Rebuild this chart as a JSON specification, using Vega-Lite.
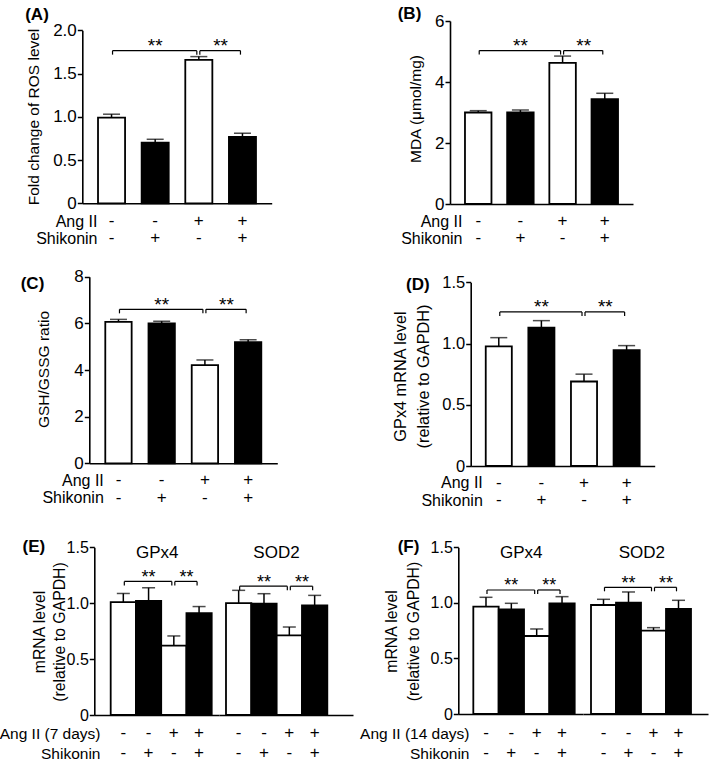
{
"$schema": "https://vega.github.io/schema/vega-lite/v6.json",
"width": 709, "height": 764, "autosize": {"type": "none"}, "padding": 0,
"config": {
 "font": "Liberation Sans",
 "view": {"stroke": null},
 "axis": {"grid": false, "domainColor": "black", "domainWidth": 1.6, "tickColor": "black", "tickWidth": 1.5, "tickSize": 5, "labelColor": "black", "labelFontSize": 17, "labelPadding": 1, "titleColor": "black", "titleFontSize": 15.5, "titleFontWeight": "normal", "titleLineHeight": 21, "labelOverlap": false},
 "text": {"color": "black"}
},
"datasets": {
 "A": [{"c":"1","ang":"-","shik":"-","m":0.99,"hi":1.03},{"c":"2","ang":"-","shik":"+","m":0.70,"hi":0.74},{"c":"3","ang":"+","shik":"-","m":1.657,"hi":1.696},{"c":"4","ang":"+","shik":"+","m":0.767,"hi":0.81}],
 "A_br": [{"from":"1","to":"3","mid":"2","lv":1.765,"kind":"long","sig":"**"},{"from":"3","to":"4","mid":"3","lv":1.765,"kind":"short","sig":"**"}],
 "B": [{"c":"1","ang":"-","shik":"-","m":3.0,"hi":3.06},{"c":"2","ang":"-","shik":"+","m":3.0,"hi":3.08},{"c":"3","ang":"+","shik":"-","m":4.63,"hi":4.85},{"c":"4","ang":"+","shik":"+","m":3.44,"hi":3.63}],
 "B_br": [{"from":"1","to":"3","mid":"2","lv":5.03,"kind":"long","sig":"**"},{"from":"3","to":"4","mid":"3","lv":5.03,"kind":"short","sig":"**"}],
 "C": [{"c":"1","ang":"-","shik":"-","m":6.06,"hi":6.17},{"c":"2","ang":"-","shik":"+","m":6.0,"hi":6.09},{"c":"3","ang":"+","shik":"-","m":4.21,"hi":4.43},{"c":"4","ang":"+","shik":"+","m":5.19,"hi":5.30}],
 "C_br": [{"from":"1","to":"3","mid":"2","lv":6.6,"kind":"long","sig":"**"},{"from":"3","to":"4","mid":"3","lv":6.6,"kind":"short","sig":"**"}],
 "D": [{"c":"1","ang":"-","shik":"-","m":0.977,"hi":1.048},{"c":"2","ang":"-","shik":"+","m":1.13,"hi":1.187},{"c":"3","ang":"+","shik":"-","m":0.69,"hi":0.75},{"c":"4","ang":"+","shik":"+","m":0.945,"hi":0.983}],
 "D_br": [{"from":"1","to":"3","mid":"2","lv":1.258,"kind":"long","sig":"**"},{"from":"3","to":"4","mid":"3","lv":1.258,"kind":"short","sig":"**"}],
 "E_g": [{"c":"1","ang":"-","shik":"-","m":1.01,"hi":1.087},{"c":"2","ang":"-","shik":"+","m":1.02,"hi":1.138},{"c":"3","ang":"+","shik":"-","m":0.62,"hi":0.707},{"c":"4","ang":"+","shik":"+","m":0.91,"hi":0.97}],
 "E_g_br": [{"from":"1","to":"3","mid":"2","lv":1.195,"kind":"long","sig":"**"},{"from":"3","to":"4","mid":"3","lv":1.195,"kind":"short","sig":"**"}],
 "E_s": [{"c":"1","ang":"-","shik":"-","m":1.0,"hi":1.115},{"c":"2","ang":"-","shik":"+","m":0.996,"hi":1.085},{"c":"3","ang":"+","shik":"-","m":0.713,"hi":0.787},{"c":"4","ang":"+","shik":"+","m":0.981,"hi":1.07}],
 "E_s_br": [{"from":"1","to":"3","mid":"2","lv":1.152,"kind":"long","sig":"**"},{"from":"3","to":"4","mid":"3","lv":1.152,"kind":"short","sig":"**"}],
 "F_g": [{"c":"1","ang":"-","shik":"-","m":0.966,"hi":1.05},{"c":"2","ang":"-","shik":"+","m":0.942,"hi":0.996},{"c":"3","ang":"+","shik":"-","m":0.702,"hi":0.765},{"c":"4","ang":"+","shik":"+","m":0.996,"hi":1.056}],
 "F_g_br": [{"from":"1","to":"3","mid":"2","lv":1.116,"kind":"long","sig":"**"},{"from":"3","to":"4","mid":"3","lv":1.116,"kind":"short","sig":"**"}],
 "F_s": [{"c":"1","ang":"-","shik":"-","m":0.981,"hi":1.032},{"c":"2","ang":"-","shik":"+","m":1.002,"hi":1.098},{"c":"3","ang":"+","shik":"-","m":0.75,"hi":0.777},{"c":"4","ang":"+","shik":"+","m":0.945,"hi":1.023}],
 "F_s_br": [{"from":"1","to":"3","mid":"2","lv":1.14,"kind":"long","sig":"**"},{"from":"3","to":"4","mid":"3","lv":1.14,"kind":"short","sig":"**"}]
},
"resolve": {"scale": {"x": "independent", "y": "independent"}, "axis": {"x": "independent", "y": "independent"}},
"layer": [
 {"data": {"name": "A"}, "layer": [
  {"mark": {"type": "bar", "stroke": "black", "strokeWidth": 1.8},
   "encoding": {"x": {"field": "c", "type": "nominal", "scale": {"type": "band", "domain": ["1","2","3","4"], "range": [82.3, 271.7], "paddingInner": 0.38, "paddingOuter": 0.36},
     "axis": {"orient": "bottom", "offset": -560.7, "labels": false, "ticks": false, "title": "(A)", "titleX": 36.5, "titleY": -189.3, "titleAlign": "center", "titleBaseline": "middle", "titleFontWeight": "bold", "titleFontSize": 17}},
    "y": {"field": "m", "type": "quantitative", "scale": {"domain": [0, 2], "range": [203.3, 30.3], "nice": false},
     "axis": {"orient": "left", "offset": -82.3, "values": [0, 0.5, 1, 1.5, 2], "labelExpr": "datum.value == 0 ? '0' : format(datum.value, '.1f')", "title": "Fold change of ROS level", "titleX": -49.3, "titleY": 116.5, "titleAngle": -90, "titleAlign": "center", "titleBaseline": "middle"}},
    "fill": {"field": "shik", "type": "nominal", "scale": {"domain": ["-","+"], "range": ["white","black"]}, "legend": null}}},
  {"mark": {"type": "rule", "color": "black", "strokeWidth": 1.5}, "encoding": {"x": {"field": "c", "type": "nominal"}, "y": {"field": "m", "type": "quantitative"}, "y2": {"field": "hi"}}},
  {"mark": {"type": "tick", "color": "black", "thickness": 1.5, "size": 17}, "encoding": {"x": {"field": "c", "type": "nominal"}, "y": {"field": "hi", "type": "quantitative"}}},
  {"data": {"name": "A_br"}, "mark": {"type": "rule", "color": "black", "strokeWidth": 1.2, "xOffset": 1, "x2Offset": -2}, "encoding": {"x": {"field": "from", "type": "nominal"}, "x2": {"field": "to"}, "y": {"field": "lv", "type": "quantitative"}}},
  {"data": {"name": "A_br"}, "mark": {"type": "rule", "color": "black", "strokeWidth": 1.2, "xOffset": 1, "y2Offset": 4}, "encoding": {"x": {"field": "from", "type": "nominal"}, "y": {"field": "lv", "type": "quantitative"}, "y2": {"field": "lv"}}},
  {"data": {"name": "A_br"}, "mark": {"type": "rule", "color": "black", "strokeWidth": 1.2, "xOffset": -2, "y2Offset": 4}, "encoding": {"x": {"field": "to", "type": "nominal"}, "y": {"field": "lv", "type": "quantitative"}, "y2": {"field": "lv"}}},
  {"data": {"name": "A_br"}, "transform": [{"filter": "datum.kind == 'long'"}], "mark": {"type": "text", "fontSize": 19, "baseline": "alphabetic", "dy": 1.5}, "encoding": {"x": {"field": "mid", "type": "nominal"}, "y": {"field": "lv", "type": "quantitative"}, "text": {"field": "sig"}}},
  {"data": {"name": "A_br"}, "transform": [{"filter": "datum.kind == 'short'"}], "mark": {"type": "text", "fontSize": 19, "baseline": "alphabetic", "dy": 1.5, "dx": 21.8}, "encoding": {"x": {"field": "mid", "type": "nominal"}, "y": {"field": "lv", "type": "quantitative"}, "text": {"field": "sig"}}}
 ]},
 {"data": {"name": "A"}, "transform": [{"fold": ["ang","shik"], "as": ["row","sign"]}], "mark": {"type": "text", "fontSize": 17},
  "encoding": {"x": {"field": "c", "type": "nominal", "scale": {"type": "band", "domain": ["1","2","3","4"], "range": [82.3, 271.7], "paddingInner": 0.38, "paddingOuter": 0.36}, "axis": null},
   "y": {"field": "row", "type": "nominal", "scale": {"type": "point", "domain": ["ang","shik"], "range": [221, 238.3], "padding": 0},
    "axis": {"orient": "left", "offset": -97, "domain": false, "ticks": false, "tickSize": 0, "labelPadding": 0, "labelFontSize": 16, "title": null, "labelExpr": "datum.value == 'ang' ? 'Ang II' : 'Shikonin'"}},
   "text": {"field": "sign"}}},

 {"data": {"name": "B"}, "layer": [
  {"mark": {"type": "bar", "stroke": "black", "strokeWidth": 1.8},
   "encoding": {"x": {"field": "c", "type": "nominal", "scale": {"type": "band", "domain": ["1","2","3","4"], "range": [450, 633], "paddingInner": 0.372, "paddingOuter": 0.355},
     "axis": {"orient": "bottom", "offset": -560, "labels": false, "ticks": false, "title": "(B)", "titleX": 409, "titleY": -190.3, "titleAlign": "center", "titleBaseline": "middle", "titleFontWeight": "bold", "titleFontSize": 17}},
    "y": {"field": "m", "type": "quantitative", "scale": {"domain": [0, 6], "range": [204, 21], "nice": false},
     "axis": {"orient": "left", "offset": -450, "values": [0, 2, 4, 6], "format": "d", "title": "MDA (μmol/mg)", "titleX": -34.3, "titleY": 108.5, "titleAngle": -90, "titleAlign": "center", "titleBaseline": "middle"}},
    "fill": {"field": "shik", "type": "nominal", "scale": {"domain": ["-","+"], "range": ["white","black"]}, "legend": null}}},
  {"mark": {"type": "rule", "color": "black", "strokeWidth": 1.5}, "encoding": {"x": {"field": "c", "type": "nominal"}, "y": {"field": "m", "type": "quantitative"}, "y2": {"field": "hi"}}},
  {"mark": {"type": "tick", "color": "black", "thickness": 1.5, "size": 17}, "encoding": {"x": {"field": "c", "type": "nominal"}, "y": {"field": "hi", "type": "quantitative"}}},
  {"data": {"name": "B_br"}, "mark": {"type": "rule", "color": "black", "strokeWidth": 1.2, "xOffset": 1, "x2Offset": -2}, "encoding": {"x": {"field": "from", "type": "nominal"}, "x2": {"field": "to"}, "y": {"field": "lv", "type": "quantitative"}}},
  {"data": {"name": "B_br"}, "mark": {"type": "rule", "color": "black", "strokeWidth": 1.2, "xOffset": 1, "y2Offset": 4}, "encoding": {"x": {"field": "from", "type": "nominal"}, "y": {"field": "lv", "type": "quantitative"}, "y2": {"field": "lv"}}},
  {"data": {"name": "B_br"}, "mark": {"type": "rule", "color": "black", "strokeWidth": 1.2, "xOffset": -2, "y2Offset": 4}, "encoding": {"x": {"field": "to", "type": "nominal"}, "y": {"field": "lv", "type": "quantitative"}, "y2": {"field": "lv"}}},
  {"data": {"name": "B_br"}, "transform": [{"filter": "datum.kind == 'long'"}], "mark": {"type": "text", "fontSize": 19, "baseline": "alphabetic", "dy": 1.5}, "encoding": {"x": {"field": "mid", "type": "nominal"}, "y": {"field": "lv", "type": "quantitative"}, "text": {"field": "sig"}}},
  {"data": {"name": "B_br"}, "transform": [{"filter": "datum.kind == 'short'"}], "mark": {"type": "text", "fontSize": 19, "baseline": "alphabetic", "dy": 1.5, "dx": 21.1}, "encoding": {"x": {"field": "mid", "type": "nominal"}, "y": {"field": "lv", "type": "quantitative"}, "text": {"field": "sig"}}}
 ]},
 {"data": {"name": "B"}, "transform": [{"fold": ["ang","shik"], "as": ["row","sign"]}], "mark": {"type": "text", "fontSize": 17},
  "encoding": {"x": {"field": "c", "type": "nominal", "scale": {"type": "band", "domain": ["1","2","3","4"], "range": [450, 633], "paddingInner": 0.372, "paddingOuter": 0.355}, "axis": null},
   "y": {"field": "row", "type": "nominal", "scale": {"type": "point", "domain": ["ang","shik"], "range": [221, 238.3], "padding": 0},
    "axis": {"orient": "left", "offset": -462, "domain": false, "ticks": false, "tickSize": 0, "labelPadding": 0, "labelFontSize": 16, "title": null, "labelExpr": "datum.value == 'ang' ? 'Ang II' : 'Shikonin'"}},
   "text": {"field": "sign"}}},

 {"data": {"name": "C"}, "layer": [
  {"mark": {"type": "bar", "stroke": "black", "strokeWidth": 1.8},
   "encoding": {"x": {"field": "c", "type": "nominal", "scale": {"type": "band", "domain": ["1","2","3","4"], "range": [89.3, 277.3], "paddingInner": 0.39, "paddingOuter": 0.37},
     "axis": {"orient": "bottom", "offset": -300.7, "labels": false, "ticks": false, "title": "(C)", "titleX": 32, "titleY": -180.3, "titleAlign": "center", "titleBaseline": "middle", "titleFontWeight": "bold", "titleFontSize": 17}},
    "y": {"field": "m", "type": "quantitative", "scale": {"domain": [0, 8], "range": [463.3, 276.7], "nice": false},
     "axis": {"orient": "left", "offset": -89.3, "values": [0, 2, 4, 6, 8], "format": "d", "title": "GSH/GSSG ratio", "titleX": -46, "titleY": 369, "titleAngle": -90, "titleAlign": "center", "titleBaseline": "middle"}},
    "fill": {"field": "shik", "type": "nominal", "scale": {"domain": ["-","+"], "range": ["white","black"]}, "legend": null}}},
  {"mark": {"type": "rule", "color": "black", "strokeWidth": 1.5}, "encoding": {"x": {"field": "c", "type": "nominal"}, "y": {"field": "m", "type": "quantitative"}, "y2": {"field": "hi"}}},
  {"mark": {"type": "tick", "color": "black", "thickness": 1.5, "size": 17}, "encoding": {"x": {"field": "c", "type": "nominal"}, "y": {"field": "hi", "type": "quantitative"}}},
  {"data": {"name": "C_br"}, "mark": {"type": "rule", "color": "black", "strokeWidth": 1.2, "xOffset": 1, "x2Offset": -2}, "encoding": {"x": {"field": "from", "type": "nominal"}, "x2": {"field": "to"}, "y": {"field": "lv", "type": "quantitative"}}},
  {"data": {"name": "C_br"}, "mark": {"type": "rule", "color": "black", "strokeWidth": 1.2, "xOffset": 1, "y2Offset": 4}, "encoding": {"x": {"field": "from", "type": "nominal"}, "y": {"field": "lv", "type": "quantitative"}, "y2": {"field": "lv"}}},
  {"data": {"name": "C_br"}, "mark": {"type": "rule", "color": "black", "strokeWidth": 1.2, "xOffset": -2, "y2Offset": 4}, "encoding": {"x": {"field": "to", "type": "nominal"}, "y": {"field": "lv", "type": "quantitative"}, "y2": {"field": "lv"}}},
  {"data": {"name": "C_br"}, "transform": [{"filter": "datum.kind == 'long'"}], "mark": {"type": "text", "fontSize": 19, "baseline": "alphabetic", "dy": 1.5}, "encoding": {"x": {"field": "mid", "type": "nominal"}, "y": {"field": "lv", "type": "quantitative"}, "text": {"field": "sig"}}},
  {"data": {"name": "C_br"}, "transform": [{"filter": "datum.kind == 'short'"}], "mark": {"type": "text", "fontSize": 19, "baseline": "alphabetic", "dy": 1.5, "dx": 21.6}, "encoding": {"x": {"field": "mid", "type": "nominal"}, "y": {"field": "lv", "type": "quantitative"}, "text": {"field": "sig"}}}
 ]},
 {"data": {"name": "C"}, "transform": [{"fold": ["ang","shik"], "as": ["row","sign"]}], "mark": {"type": "text", "fontSize": 17},
  "encoding": {"x": {"field": "c", "type": "nominal", "scale": {"type": "band", "domain": ["1","2","3","4"], "range": [89.3, 277.3], "paddingInner": 0.39, "paddingOuter": 0.37}, "axis": null},
   "y": {"field": "row", "type": "nominal", "scale": {"type": "point", "domain": ["ang","shik"], "range": [480, 497.5], "padding": 0},
    "axis": {"orient": "left", "offset": -103.3, "domain": false, "ticks": false, "tickSize": 0, "labelPadding": 0, "labelFontSize": 16, "title": null, "labelExpr": "datum.value == 'ang' ? 'Ang II' : 'Shikonin'"}},
   "text": {"field": "sign"}}},

 {"data": {"name": "D"}, "layer": [
  {"mark": {"type": "bar", "stroke": "black", "strokeWidth": 1.8},
   "encoding": {"x": {"field": "c", "type": "nominal", "scale": {"type": "band", "domain": ["1","2","3","4"], "range": [470.7, 654.7], "paddingInner": 0.388, "paddingOuter": 0.353},
     "axis": {"orient": "bottom", "offset": -298, "labels": false, "ticks": false, "title": "(D)", "titleX": 417.3, "titleY": -182, "titleAlign": "center", "titleBaseline": "middle", "titleFontWeight": "bold", "titleFontSize": 17}},
    "y": {"field": "m", "type": "quantitative", "scale": {"domain": [0, 1.5], "range": [466, 282.3], "nice": false},
     "axis": {"orient": "left", "offset": -470.7, "values": [0, 0.5, 1, 1.5], "labelFontSize": 16.5, "labelExpr": "datum.value == 0 ? '0' : format(datum.value, '.1f')", "title": ["GPx4 mRNA level", "(relative to GAPDH)"], "titleFontSize": 16.3, "titleLineHeight": 22.5, "titleX": -70, "titleY": 376, "titleAngle": -90, "titleAlign": "center", "titleBaseline": "middle"}},
    "fill": {"field": "shik", "type": "nominal", "scale": {"domain": ["-","+"], "range": ["white","black"]}, "legend": null}}},
  {"mark": {"type": "rule", "color": "black", "strokeWidth": 1.5}, "encoding": {"x": {"field": "c", "type": "nominal"}, "y": {"field": "m", "type": "quantitative"}, "y2": {"field": "hi"}}},
  {"mark": {"type": "tick", "color": "black", "thickness": 1.5, "size": 17}, "encoding": {"x": {"field": "c", "type": "nominal"}, "y": {"field": "hi", "type": "quantitative"}}},
  {"data": {"name": "D_br"}, "mark": {"type": "rule", "color": "black", "strokeWidth": 1.2, "xOffset": 1, "x2Offset": -2}, "encoding": {"x": {"field": "from", "type": "nominal"}, "x2": {"field": "to"}, "y": {"field": "lv", "type": "quantitative"}}},
  {"data": {"name": "D_br"}, "mark": {"type": "rule", "color": "black", "strokeWidth": 1.2, "xOffset": 1, "y2Offset": 4}, "encoding": {"x": {"field": "from", "type": "nominal"}, "y": {"field": "lv", "type": "quantitative"}, "y2": {"field": "lv"}}},
  {"data": {"name": "D_br"}, "mark": {"type": "rule", "color": "black", "strokeWidth": 1.2, "xOffset": -2, "y2Offset": 4}, "encoding": {"x": {"field": "to", "type": "nominal"}, "y": {"field": "lv", "type": "quantitative"}, "y2": {"field": "lv"}}},
  {"data": {"name": "D_br"}, "transform": [{"filter": "datum.kind == 'long'"}], "mark": {"type": "text", "fontSize": 19, "baseline": "alphabetic", "dy": 1.5}, "encoding": {"x": {"field": "mid", "type": "nominal"}, "y": {"field": "lv", "type": "quantitative"}, "text": {"field": "sig"}}},
  {"data": {"name": "D_br"}, "transform": [{"filter": "datum.kind == 'short'"}], "mark": {"type": "text", "fontSize": 19, "baseline": "alphabetic", "dy": 1.5, "dx": 21.3}, "encoding": {"x": {"field": "mid", "type": "nominal"}, "y": {"field": "lv", "type": "quantitative"}, "text": {"field": "sig"}}}
 ]},
 {"data": {"name": "D"}, "transform": [{"fold": ["ang","shik"], "as": ["row","sign"]}], "mark": {"type": "text", "fontSize": 17},
  "encoding": {"x": {"field": "c", "type": "nominal", "scale": {"type": "band", "domain": ["1","2","3","4"], "range": [470.7, 654.7], "paddingInner": 0.388, "paddingOuter": 0.353}, "axis": null},
   "y": {"field": "row", "type": "nominal", "scale": {"type": "point", "domain": ["ang","shik"], "range": [482.5, 500.3], "padding": 0},
    "axis": {"orient": "left", "offset": -482.3, "domain": false, "ticks": false, "tickSize": 0, "labelPadding": 0, "labelFontSize": 16, "title": null, "labelExpr": "datum.value == 'ang' ? 'Ang II' : 'Shikonin'"}},
   "text": {"field": "sign"}}},

 {"data": {"name": "E_g"}, "layer": [
  {"mark": {"type": "bar", "stroke": "black", "strokeWidth": 1.8},
   "encoding": {"x": {"field": "c", "type": "nominal", "scale": {"type": "band", "domain": ["1","2","3","4"], "range": [94.3, 219], "paddingInner": 0, "paddingOuter": 0.469, "align": 0.692},
     "axis": {"orient": "bottom", "offset": -49, "labels": false, "ticks": false, "title": "(E)", "titleX": 33.3, "titleY": -169, "titleAlign": "center", "titleBaseline": "middle", "titleFontWeight": "bold", "titleFontSize": 17}},
    "y": {"field": "m", "type": "quantitative", "scale": {"domain": [0, 1.5], "range": [715, 547.3], "nice": false},
     "axis": {"orient": "left", "offset": -94.3, "values": [0, 0.5, 1, 1.5], "labelFontSize": 16, "labelExpr": "datum.value == 0 ? '0' : format(datum.value, '.1f')", "title": ["mRNA level", "(relative to GAPDH)"], "titleFontSize": 15.8, "titleLineHeight": 20.5, "titleX": -55.3, "titleY": 631.5, "titleAngle": -90, "titleAlign": "center", "titleBaseline": "middle"}},
    "fill": {"field": "shik", "type": "nominal", "scale": {"domain": ["-","+"], "range": ["white","black"]}, "legend": null}}},
  {"mark": {"type": "rule", "color": "black", "strokeWidth": 1.5}, "encoding": {"x": {"field": "c", "type": "nominal"}, "y": {"field": "m", "type": "quantitative"}, "y2": {"field": "hi"}}},
  {"mark": {"type": "tick", "color": "black", "thickness": 1.5, "size": 13}, "encoding": {"x": {"field": "c", "type": "nominal"}, "y": {"field": "hi", "type": "quantitative"}}},
  {"data": {"name": "E_g_br"}, "mark": {"type": "rule", "color": "black", "strokeWidth": 1.2, "xOffset": 1, "x2Offset": -2}, "encoding": {"x": {"field": "from", "type": "nominal"}, "x2": {"field": "to"}, "y": {"field": "lv", "type": "quantitative"}}},
  {"data": {"name": "E_g_br"}, "mark": {"type": "rule", "color": "black", "strokeWidth": 1.2, "xOffset": 1, "y2Offset": 4}, "encoding": {"x": {"field": "from", "type": "nominal"}, "y": {"field": "lv", "type": "quantitative"}, "y2": {"field": "lv"}}},
  {"data": {"name": "E_g_br"}, "mark": {"type": "rule", "color": "black", "strokeWidth": 1.2, "xOffset": -2, "y2Offset": 4}, "encoding": {"x": {"field": "to", "type": "nominal"}, "y": {"field": "lv", "type": "quantitative"}, "y2": {"field": "lv"}}},
  {"data": {"name": "E_g_br"}, "transform": [{"filter": "datum.kind == 'long'"}], "mark": {"type": "text", "fontSize": 18, "baseline": "alphabetic", "dy": 1.5}, "encoding": {"x": {"field": "mid", "type": "nominal"}, "y": {"field": "lv", "type": "quantitative"}, "text": {"field": "sig"}}},
  {"data": {"name": "E_g_br"}, "transform": [{"filter": "datum.kind == 'short'"}], "mark": {"type": "text", "fontSize": 18, "baseline": "alphabetic", "dy": 1.5, "dx": 12.6}, "encoding": {"x": {"field": "mid", "type": "nominal"}, "y": {"field": "lv", "type": "quantitative"}, "text": {"field": "sig"}}}
 ]},
 {"data": {"name": "E_s"}, "layer": [
  {"mark": {"type": "bar", "stroke": "black", "strokeWidth": 1.8},
   "encoding": {"x": {"field": "c", "type": "nominal", "scale": {"type": "band", "domain": ["1","2","3","4"], "range": [219, 353], "paddingInner": 0, "paddingOuter": 0.645, "align": 0.214},
     "axis": {"orient": "bottom", "offset": -49, "labels": false, "ticks": false, "title": null}},
    "y": {"field": "m", "type": "quantitative", "scale": {"domain": [0, 1.5], "range": [715, 547.3], "nice": false}, "axis": null},
    "fill": {"field": "shik", "type": "nominal", "scale": {"domain": ["-","+"], "range": ["white","black"]}, "legend": null}}},
  {"mark": {"type": "rule", "color": "black", "strokeWidth": 1.5}, "encoding": {"x": {"field": "c", "type": "nominal"}, "y": {"field": "m", "type": "quantitative"}, "y2": {"field": "hi"}}},
  {"mark": {"type": "tick", "color": "black", "thickness": 1.5, "size": 13}, "encoding": {"x": {"field": "c", "type": "nominal"}, "y": {"field": "hi", "type": "quantitative"}}},
  {"data": {"name": "E_s_br"}, "mark": {"type": "rule", "color": "black", "strokeWidth": 1.2, "xOffset": 1, "x2Offset": -2}, "encoding": {"x": {"field": "from", "type": "nominal"}, "x2": {"field": "to"}, "y": {"field": "lv", "type": "quantitative"}}},
  {"data": {"name": "E_s_br"}, "mark": {"type": "rule", "color": "black", "strokeWidth": 1.2, "xOffset": 1, "y2Offset": 4}, "encoding": {"x": {"field": "from", "type": "nominal"}, "y": {"field": "lv", "type": "quantitative"}, "y2": {"field": "lv"}}},
  {"data": {"name": "E_s_br"}, "mark": {"type": "rule", "color": "black", "strokeWidth": 1.2, "xOffset": -2, "y2Offset": 4}, "encoding": {"x": {"field": "to", "type": "nominal"}, "y": {"field": "lv", "type": "quantitative"}, "y2": {"field": "lv"}}},
  {"data": {"name": "E_s_br"}, "transform": [{"filter": "datum.kind == 'long'"}], "mark": {"type": "text", "fontSize": 18, "baseline": "alphabetic", "dy": 1.5}, "encoding": {"x": {"field": "mid", "type": "nominal"}, "y": {"field": "lv", "type": "quantitative"}, "text": {"field": "sig"}}},
  {"data": {"name": "E_s_br"}, "transform": [{"filter": "datum.kind == 'short'"}], "mark": {"type": "text", "fontSize": 18, "baseline": "alphabetic", "dy": 1.5, "dx": 12.6}, "encoding": {"x": {"field": "mid", "type": "nominal"}, "y": {"field": "lv", "type": "quantitative"}, "text": {"field": "sig"}}}
 ]},
 {"data": {"name": "E_g"}, "transform": [{"fold": ["ang","shik"], "as": ["row","sign"]}], "mark": {"type": "text", "fontSize": 17},
  "encoding": {"x": {"field": "c", "type": "nominal", "scale": {"type": "band", "domain": ["1","2","3","4"], "range": [94.3, 219], "paddingInner": 0, "paddingOuter": 0.469, "align": 0.692},
    "axis": {"orient": "top", "offset": -552.3, "domain": false, "ticks": false, "labels": false, "title": "GPx4", "titleFontSize": 17, "titleX": 156.7, "titleY": 0, "titleAlign": "center", "titleBaseline": "middle"}},
   "y": {"field": "row", "type": "nominal", "scale": {"type": "point", "domain": ["ang","shik"], "range": [733.3, 753.3], "padding": 0},
    "axis": {"orient": "left", "offset": -100, "domain": false, "ticks": false, "tickSize": 0, "labelPadding": 0, "labelFontSize": 15.5, "title": null, "labelExpr": "datum.value == 'ang' ? 'Ang II (7 days)' : 'Shikonin'"}},
   "text": {"field": "sign"}}},
 {"data": {"name": "E_s"}, "transform": [{"fold": ["ang","shik"], "as": ["row","sign"]}], "mark": {"type": "text", "fontSize": 17},
  "encoding": {"x": {"field": "c", "type": "nominal", "scale": {"type": "band", "domain": ["1","2","3","4"], "range": [219, 353], "paddingInner": 0, "paddingOuter": 0.645, "align": 0.214},
    "axis": {"orient": "top", "offset": -552.3, "domain": false, "ticks": false, "labels": false, "title": "SOD2", "titleFontSize": 17, "titleX": 276, "titleY": 0, "titleAlign": "center", "titleBaseline": "middle"}},
   "y": {"field": "row", "type": "nominal", "scale": {"type": "point", "domain": ["ang","shik"], "range": [733.3, 753.3], "padding": 0}, "axis": null},
   "text": {"field": "sign"}}},

 {"data": {"name": "F_g"}, "layer": [
  {"mark": {"type": "bar", "stroke": "black", "strokeWidth": 1.8},
   "encoding": {"x": {"field": "c", "type": "nominal", "scale": {"type": "band", "domain": ["1","2","3","4"], "range": [458.3, 583], "paddingInner": 0, "paddingOuter": 0.46, "align": 0.644},
     "axis": {"orient": "bottom", "offset": -50, "labels": false, "ticks": false, "title": "(F)", "titleX": 408, "titleY": -168, "titleAlign": "center", "titleBaseline": "middle", "titleFontWeight": "bold", "titleFontSize": 17}},
    "y": {"field": "m", "type": "quantitative", "scale": {"domain": [0, 1.5], "range": [714, 547.3], "nice": false},
     "axis": {"orient": "left", "offset": -458.3, "values": [0, 0.5, 1, 1.5], "labelFontSize": 16, "labelExpr": "datum.value == 0 ? '0' : format(datum.value, '.1f')", "title": ["mRNA level", "(relative to GAPDH)"], "titleFontSize": 15.8, "titleLineHeight": 22, "titleX": -66.8, "titleY": 631, "titleAngle": -90, "titleAlign": "center", "titleBaseline": "middle"}},
    "fill": {"field": "shik", "type": "nominal", "scale": {"domain": ["-","+"], "range": ["white","black"]}, "legend": null}}},
  {"mark": {"type": "rule", "color": "black", "strokeWidth": 1.5}, "encoding": {"x": {"field": "c", "type": "nominal"}, "y": {"field": "m", "type": "quantitative"}, "y2": {"field": "hi"}}},
  {"mark": {"type": "tick", "color": "black", "thickness": 1.5, "size": 13}, "encoding": {"x": {"field": "c", "type": "nominal"}, "y": {"field": "hi", "type": "quantitative"}}},
  {"data": {"name": "F_g_br"}, "mark": {"type": "rule", "color": "black", "strokeWidth": 1.2, "xOffset": 1, "x2Offset": -2}, "encoding": {"x": {"field": "from", "type": "nominal"}, "x2": {"field": "to"}, "y": {"field": "lv", "type": "quantitative"}}},
  {"data": {"name": "F_g_br"}, "mark": {"type": "rule", "color": "black", "strokeWidth": 1.2, "xOffset": 1, "y2Offset": 4}, "encoding": {"x": {"field": "from", "type": "nominal"}, "y": {"field": "lv", "type": "quantitative"}, "y2": {"field": "lv"}}},
  {"data": {"name": "F_g_br"}, "mark": {"type": "rule", "color": "black", "strokeWidth": 1.2, "xOffset": -2, "y2Offset": 4}, "encoding": {"x": {"field": "to", "type": "nominal"}, "y": {"field": "lv", "type": "quantitative"}, "y2": {"field": "lv"}}},
  {"data": {"name": "F_g_br"}, "transform": [{"filter": "datum.kind == 'long'"}], "mark": {"type": "text", "fontSize": 18, "baseline": "alphabetic", "dy": 1.5}, "encoding": {"x": {"field": "mid", "type": "nominal"}, "y": {"field": "lv", "type": "quantitative"}, "text": {"field": "sig"}}},
  {"data": {"name": "F_g_br"}, "transform": [{"filter": "datum.kind == 'short'"}], "mark": {"type": "text", "fontSize": 18, "baseline": "alphabetic", "dy": 1.5, "dx": 12.6}, "encoding": {"x": {"field": "mid", "type": "nominal"}, "y": {"field": "lv", "type": "quantitative"}, "text": {"field": "sig"}}}
 ]},
 {"data": {"name": "F_s"}, "layer": [
  {"mark": {"type": "bar", "stroke": "black", "strokeWidth": 1.8},
   "encoding": {"x": {"field": "c", "type": "nominal", "scale": {"type": "band", "domain": ["1","2","3","4"], "range": [583, 708], "paddingInner": 0, "paddingOuter": 0.5, "align": 0.32},
     "axis": {"orient": "bottom", "offset": -50, "labels": false, "ticks": false, "title": null}},
    "y": {"field": "m", "type": "quantitative", "scale": {"domain": [0, 1.5], "range": [714, 547.3], "nice": false}, "axis": null},
    "fill": {"field": "shik", "type": "nominal", "scale": {"domain": ["-","+"], "range": ["white","black"]}, "legend": null}}},
  {"mark": {"type": "rule", "color": "black", "strokeWidth": 1.5}, "encoding": {"x": {"field": "c", "type": "nominal"}, "y": {"field": "m", "type": "quantitative"}, "y2": {"field": "hi"}}},
  {"mark": {"type": "tick", "color": "black", "thickness": 1.5, "size": 13}, "encoding": {"x": {"field": "c", "type": "nominal"}, "y": {"field": "hi", "type": "quantitative"}}},
  {"data": {"name": "F_s_br"}, "mark": {"type": "rule", "color": "black", "strokeWidth": 1.2, "xOffset": 1, "x2Offset": -2}, "encoding": {"x": {"field": "from", "type": "nominal"}, "x2": {"field": "to"}, "y": {"field": "lv", "type": "quantitative"}}},
  {"data": {"name": "F_s_br"}, "mark": {"type": "rule", "color": "black", "strokeWidth": 1.2, "xOffset": 1, "y2Offset": 4}, "encoding": {"x": {"field": "from", "type": "nominal"}, "y": {"field": "lv", "type": "quantitative"}, "y2": {"field": "lv"}}},
  {"data": {"name": "F_s_br"}, "mark": {"type": "rule", "color": "black", "strokeWidth": 1.2, "xOffset": -2, "y2Offset": 4}, "encoding": {"x": {"field": "to", "type": "nominal"}, "y": {"field": "lv", "type": "quantitative"}, "y2": {"field": "lv"}}},
  {"data": {"name": "F_s_br"}, "transform": [{"filter": "datum.kind == 'long'"}], "mark": {"type": "text", "fontSize": 18, "baseline": "alphabetic", "dy": 1.5}, "encoding": {"x": {"field": "mid", "type": "nominal"}, "y": {"field": "lv", "type": "quantitative"}, "text": {"field": "sig"}}},
  {"data": {"name": "F_s_br"}, "transform": [{"filter": "datum.kind == 'short'"}], "mark": {"type": "text", "fontSize": 18, "baseline": "alphabetic", "dy": 1.5, "dx": 12.5}, "encoding": {"x": {"field": "mid", "type": "nominal"}, "y": {"field": "lv", "type": "quantitative"}, "text": {"field": "sig"}}}
 ]},
 {"data": {"name": "F_g"}, "transform": [{"fold": ["ang","shik"], "as": ["row","sign"]}], "mark": {"type": "text", "fontSize": 17},
  "encoding": {"x": {"field": "c", "type": "nominal", "scale": {"type": "band", "domain": ["1","2","3","4"], "range": [458.3, 583], "paddingInner": 0, "paddingOuter": 0.46, "align": 0.644},
    "axis": {"orient": "top", "offset": -552.3, "domain": false, "ticks": false, "labels": false, "title": "GPx4", "titleFontSize": 17, "titleX": 520.7, "titleY": 0, "titleAlign": "center", "titleBaseline": "middle"}},
   "y": {"field": "row", "type": "nominal", "scale": {"type": "point", "domain": ["ang","shik"], "range": [733.3, 753.3], "padding": 0},
    "axis": {"orient": "left", "offset": -469, "domain": false, "ticks": false, "tickSize": 0, "labelPadding": 0, "labelFontSize": 15.5, "title": null, "labelExpr": "datum.value == 'ang' ? 'Ang II (14 days)' : 'Shikonin'"}},
   "text": {"field": "sign"}}},
 {"data": {"name": "F_s"}, "transform": [{"fold": ["ang","shik"], "as": ["row","sign"]}], "mark": {"type": "text", "fontSize": 17},
  "encoding": {"x": {"field": "c", "type": "nominal", "scale": {"type": "band", "domain": ["1","2","3","4"], "range": [583, 708], "paddingInner": 0, "paddingOuter": 0.5, "align": 0.32},
    "axis": {"orient": "top", "offset": -552.3, "domain": false, "ticks": false, "labels": false, "title": "SOD2", "titleFontSize": 17, "titleX": 641.3, "titleY": 0, "titleAlign": "center", "titleBaseline": "middle"}},
   "y": {"field": "row", "type": "nominal", "scale": {"type": "point", "domain": ["ang","shik"], "range": [733.3, 753.3], "padding": 0}, "axis": null},
   "text": {"field": "sign"}}}
]
}
